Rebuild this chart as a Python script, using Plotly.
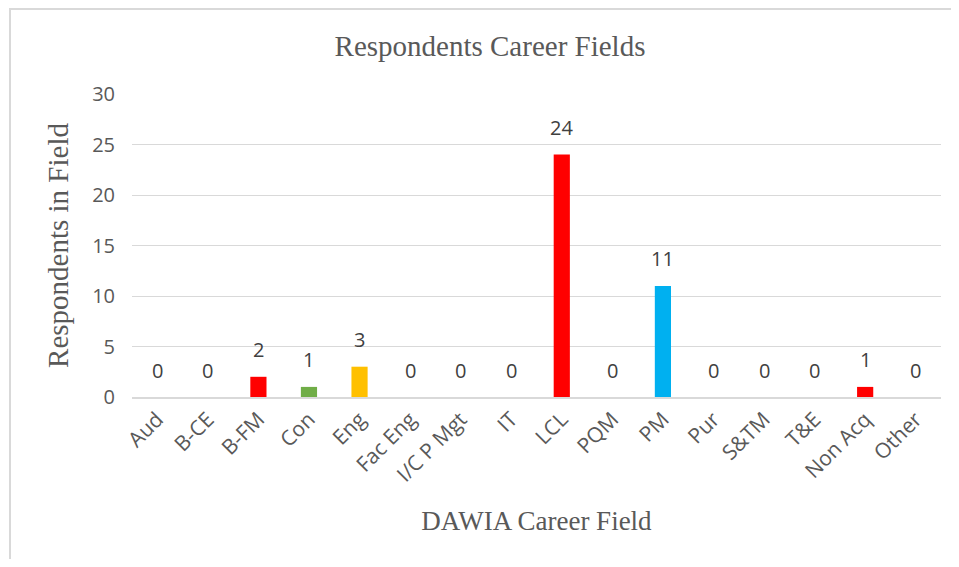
import plotly.graph_objects as go

categories = ["Aud", "B-CE", "B-FM", "Con", "Eng", "Fac Eng", "I/C P Mgt", "IT",
              "LCL", "PQM", "PM", "Pur", "S&TM", "T&E", "Non Acq", "Other"]
values = [0, 0, 2, 1, 3, 0, 0, 0, 24, 0, 11, 0, 0, 0, 1, 0]
bar_colors = ["#FF0000", "#FF0000", "#FF0000", "#70AD47", "#FFC000", "#FF0000", "#FF0000", "#FF0000",
              "#FF0000", "#FF0000", "#00B0F0", "#FF0000", "#FF0000", "#FF0000", "#FF0000", "#FF0000"]
y_ticks = [0, 5, 10, 15, 20, 25, 30]

# figure is placed by the page at (8, 8)
W, H = 943, 551
L, R, T, B = 124, 10, 86, 162
pw = W - L - R
ph = H - T - B

fig = go.Figure(go.Bar(
    x=categories, y=values, marker=dict(color=bar_colors, line=dict(width=0)),
    hoverinfo="x+y",
))

annotations = [dict(x=c, y=v, xref="x", yref="y", text=str(v), showarrow=False,
                    yshift=27, yanchor="middle", xanchor="center",
                    font=dict(family="Open Sans", size=20, color="#404040"))
               for c, v in zip(categories, values)]

fig.update_layout(
    width=W, height=H,
    margin=dict(l=L, r=R, t=T, b=B),
    paper_bgcolor="white", plot_bgcolor="white",
    bargap=0.68,
    showlegend=False,
    title=dict(text="Respondents Career Fields", x=(490 - 8) / W, xanchor="center",
               y=1 - 38 / H, yanchor="middle",
               font=dict(family="Liberation Serif", size=29, color="#595959")),
    xaxis=dict(tickangle=-45, tickfont=dict(family="Open Sans", size=21, color="#595959"),
               showline=True, linecolor="#D9D9D9", linewidth=1.5, ticks="",
               title=dict(text="DAWIA Career Field", standoff=25,
                          font=dict(family="Liberation Serif", size=27, color="#595959"))),
    yaxis=dict(range=[0, 30], tickvals=y_ticks, showgrid=True, gridcolor="#D9D9D9", gridwidth=1,
               zeroline=False, ticks="", ticklabelstandoff=16,
               tickfont=dict(family="Open Sans", size=20, color="#595959"),
               title=dict(text="Respondents in Field", standoff=14,
                          font=dict(family="Liberation Serif", size=29, color="#595959"))),
    annotations=annotations,
    shapes=[dict(type="rect", xref="paper", yref="paper",
                 x0=(2 - L) / pw, x1=(1000 - L) / pw,
                 y0=(H - B - 700) / ph, y1=(H - B - 1) / ph,
                 line=dict(color="#D9D9D9", width=2), fillcolor="rgba(0,0,0,0)", layer="below")],
)

fig.write_html("out.html")
